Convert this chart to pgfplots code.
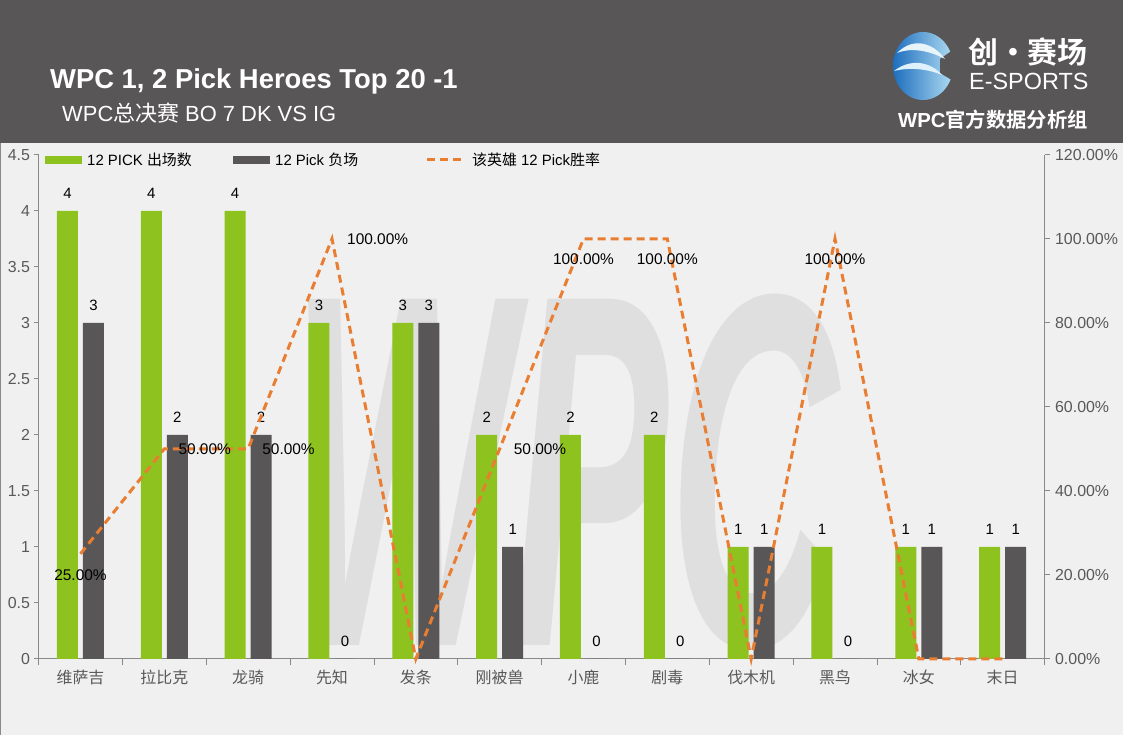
\documentclass[border=0pt]{standalone}
\usepackage{fontspec}
\setmainfont{Liberation Sans}
\newfontfamily\cjk{Noto Sans CJK SC}[BoldFont={Noto Sans CJK SC Bold}]
\usepackage{pgfplots}
\pgfplotsset{compat=1.18}
\pgfplotsset{/pgf/number format/assume math mode=true}
\definecolor{hdr}{RGB}{89,86,87}
\definecolor{bgc}{RGB}{240,240,240}
\definecolor{barg}{RGB}{141,194,31}
\definecolor{bard}{RGB}{89,86,87}
\definecolor{orng}{RGB}{233,125,49}
\definecolor{axg}{RGB}{137,137,137}
\definecolor{txg}{RGB}{89,89,89}
\definecolor{wm}{RGB}{223,223,223}
\definecolor{gla}{RGB}{30,110,190}
\definecolor{glb}{RGB}{175,220,242}
\begin{document}
\begin{tikzpicture}[x=1bp,y=1bp]
\useasboundingbox (0,0) rectangle (1123,735);
\fill[bgc] (0,0) rectangle (1123,735);
\fill[hdr] (0,592) rectangle (1123,735);
\draw[axg, line width=1bp] (0.5,0) -- (0.5,592);
% watermark
\node[text=wm, font=\bfseries\itshape\fontsize{235}{235}\selectfont, yscale=2.15, anchor=base, inner sep=0] at (565,89) {WPC};
% header texts
\node[anchor=base west, inner sep=0, text=white, font=\bfseries\fontsize{27.5}{30}\selectfont] at (50,646) {WPC 1, 2 Pick Heroes Top 20 -1};
\node[anchor=base west, inner sep=0, text=white, font=\fontsize{22}{24}\selectfont] at (62,613) {WPC{\cjk 总决赛} BO 7 DK VS IG};
\node[anchor=base east, inner sep=0, text=white, font=\bfseries\fontsize{20.4}{22}\selectfont] at (1088,607) {WPC{\cjk\bfseries 官方数据分析组}};
% logo
\shade[left color=gla, right color=glb] (923,669) circle[x radius=30, y radius=34];
\fill[hdr] (940,676) -- (960,690) -- (960,650) -- (940,662) -- cycle;
\fill[white!70!glb] (897,682) .. controls (915,700) and (935,690) .. (945,676) .. controls (930,684) and (912,688) .. (897,682) -- cycle;
\fill[white!60!glb] (894,664) .. controls (912,678) and (932,672) .. (942,660) .. controls (928,666) and (910,668) .. (894,664) -- cycle;
\node[anchor=base west, inner sep=0, text=white, font=\cjk\bfseries\fontsize{30}{32}\selectfont] at (968,671) {创·赛场};
\node[anchor=base west, inner sep=0, text=white, font=\fontsize{23.5}{25}\selectfont] at (969,645) {E-SPORTS};

\begin{axis}[name=main, at={(46,68)}, anchor=south west, scale only axis, width=1006bp, height=504bp,
 xmin=-0.5, xmax=11.5, ymin=0, ymax=4.5,
 axis x line*=bottom, axis y line*=left, axis line style={axg, line width=0.8bp},
 tick align=outside, major tick length=5bp, minor tick length=6bp,
 xtick={0,...,11},
 xticklabels={维萨吉,拉比克,龙骑,先知,发条,刚被兽,小鹿,剧毒,伐木机,黑鸟,冰女,末日},
 major x tick style={draw=none},
 minor xtick={-0.5,0.5,...,11.5}, minor x tick style={axg, line width=0.8bp},
 ytick={0,0.5,1,1.5,2,2.5,3,3.5,4,4.5}, ytick style={axg, line width=0.8bp},
 yticklabel style={text=txg, font=\fontsize{16}{18}\selectfont, /pgf/number format/fixed},
 xticklabel style={text=txg, font=\cjk\fontsize{16}{18}\selectfont, yshift=-3bp},
 ybar=5bp, bar width=21bp,
 nodes near coords,
 every node near coord/.append style={font=\fontsize{15}{17}\selectfont, text=black, yshift=9bp},
 clip=false]
\addplot[fill=barg, draw=none] coordinates {(0,4)(1,4)(2,4)(3,3)(4,3)(5,2)(6,2)(7,2)(8,1)(9,1)(10,1)(11,1)};
\addplot[fill=bard, draw=none] coordinates {(0,3)(1,2)(2,2)(3,0)(4,3)(5,1)(6,0)(7,0)(8,1)(9,0)(10,1)(11,1)};
\end{axis}

\begin{axis}[at={(main.south west)}, anchor=south west, scale only axis, width=1006bp, height=504bp,
 xmin=-0.5, xmax=11.5, ymin=0, ymax=120,
 hide x axis, axis y line*=right, axis line style={axg, line width=0.8bp},
 tick align=outside, major tick length=5bp,
 ytick={0,20,40,60,80,100,120}, ytick style={axg, line width=0.8bp},
 yticklabel={\pgfmathprintnumber[fixed,fixed zerofill,precision=2]{\tick}\%},
 yticklabel style={text=txg, font=\fontsize{16}{18}\selectfont, xshift=2bp},
 clip=false]
\addplot[orng, line width=3bp, dash pattern=on 8bp off 5bp] coordinates {(0,25)(1,50)(2,50)(3,100)(4,0)(5,50)(6,100)(7,100)(8,0)(9,100)(10,0)(11,0)};
\node[anchor=north, font=\fontsize{15.5}{17}\selectfont, inner sep=0] at (axis cs:0,25) [yshift=-16bp] {25.00\%};
\node[anchor=west, font=\fontsize{15.5}{17}\selectfont, inner sep=0] at (axis cs:1,50) [xshift=14bp] {50.00\%};
\node[anchor=west, font=\fontsize{15.5}{17}\selectfont, inner sep=0] at (axis cs:2,50) [xshift=14bp] {50.00\%};
\node[anchor=west, font=\fontsize{15.5}{17}\selectfont, inner sep=0] at (axis cs:3,100) [xshift=15bp] {100.00\%};
\node[anchor=west, font=\fontsize{15.5}{17}\selectfont, inner sep=0] at (axis cs:5,50) [xshift=14bp] {50.00\%};
\node[anchor=north, font=\fontsize{15.5}{17}\selectfont, inner sep=0] at (axis cs:6,100) [yshift=-15bp] {100.00\%};
\node[anchor=north, font=\fontsize{15.5}{17}\selectfont, inner sep=0] at (axis cs:7,100) [yshift=-15bp] {100.00\%};
\node[anchor=north, font=\fontsize{15.5}{17}\selectfont, inner sep=0] at (axis cs:9,100) [yshift=-15bp] {100.00\%};
\end{axis}

% legend
\fill[barg] (45,571) rectangle (82,579);
\node[anchor=west, inner sep=0, font=\fontsize{15}{17}\selectfont] at (87,575) {12 PICK {\cjk 出场数}};
\fill[bard] (233,571) rectangle (270,579);
\node[anchor=west, inner sep=0, font=\fontsize{15}{17}\selectfont] at (275,575) {12 Pick {\cjk 负场}};
\draw[orng, line width=3bp, dash pattern=on 8bp off 5bp] (427,575) -- (462,575);
\node[anchor=west, inner sep=0, font=\fontsize{15}{17}\selectfont] at (472,575) {{\cjk 该英雄} 12 Pick{\cjk 胜率}};
\end{tikzpicture}
\end{document}
